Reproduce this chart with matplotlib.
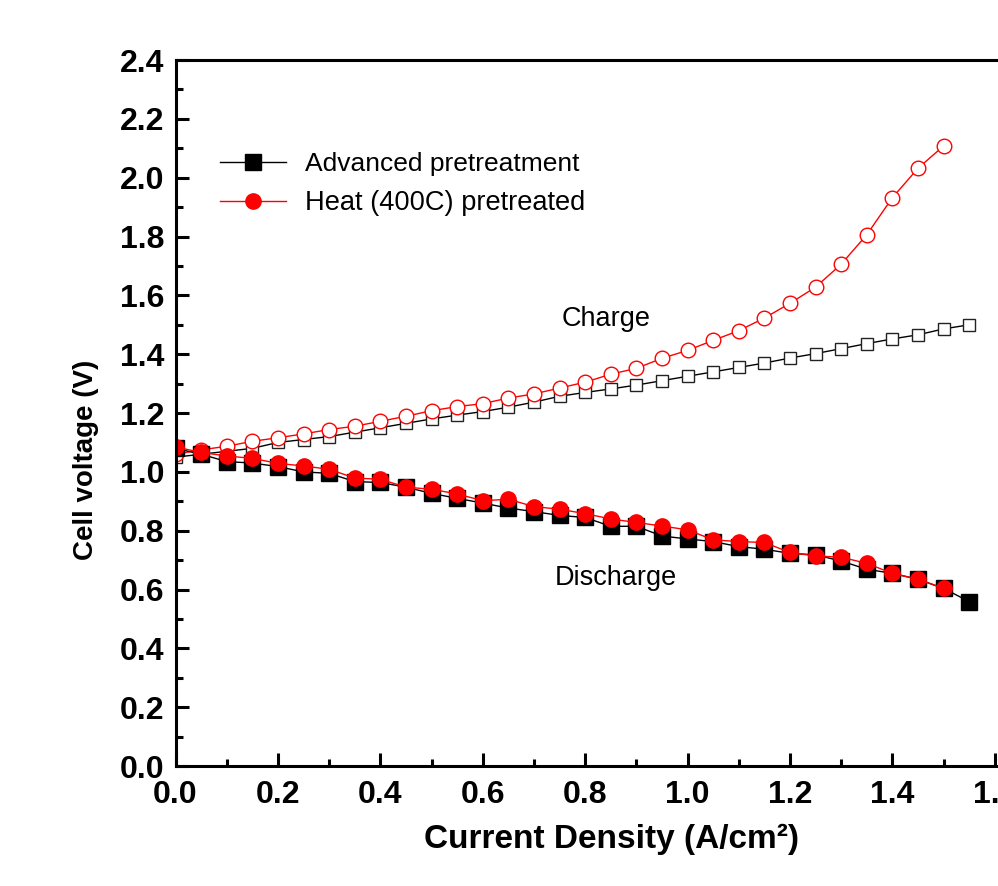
import matplotlib
matplotlib.use("Agg")
import matplotlib.pyplot as plt
from matplotlib.ticker import MultipleLocator

plt.rcParams["font.family"] = ["Liberation Sans", "DejaVu Sans"]

# current density steps (A/cm2)
x_adv = [0.00, 0.05, 0.10, 0.15, 0.20, 0.25, 0.30, 0.35, 0.40, 0.45, 0.50,
         0.55, 0.60, 0.65, 0.70, 0.75, 0.80, 0.85, 0.90, 0.95, 1.00, 1.05,
         1.10, 1.15, 1.20, 1.25, 1.30, 1.35, 1.40, 1.45, 1.50, 1.55]
x_heat = x_adv[:-1]

# advanced pretreatment
adv_charge = [1.050, 1.060, 1.070, 1.080, 1.100, 1.110, 1.120, 1.135, 1.150, 1.165, 1.180,
              1.193, 1.205, 1.220, 1.237, 1.257, 1.270, 1.282, 1.295, 1.310, 1.325, 1.340,
              1.355, 1.370, 1.387, 1.402, 1.419, 1.436, 1.452, 1.466, 1.486, 1.500]
adv_discharge = [1.080, 1.060, 1.035, 1.030, 1.018, 1.000, 0.995, 0.967, 0.964, 0.948, 0.927,
                 0.910, 0.894, 0.877, 0.865, 0.852, 0.845, 0.815, 0.815, 0.782, 0.772, 0.763,
                 0.746, 0.737, 0.723, 0.718, 0.697, 0.669, 0.655, 0.635, 0.604, 0.559]

# heat (400C) pretreated
heat_charge = [1.060, 1.075, 1.087, 1.104, 1.116, 1.129, 1.144, 1.155, 1.172, 1.189, 1.208,
               1.222, 1.232, 1.251, 1.265, 1.285, 1.305, 1.332, 1.352, 1.386, 1.413,
               1.447, 1.480, 1.523, 1.573, 1.628, 1.706, 1.806, 1.932, 2.032, 2.108]
heat_discharge = [1.085, 1.066, 1.054, 1.046, 1.029, 1.020, 1.009, 0.979, 0.975, 0.948, 0.941,
                  0.925, 0.902, 0.907, 0.882, 0.873, 0.858, 0.840, 0.828, 0.816, 0.803,
                  0.769, 0.763, 0.760, 0.726, 0.714, 0.710, 0.689, 0.655, 0.635, 0.604]

labels = ["Advanced pretreatment", "Heat (400C) pretreated"]

fig = plt.figure(figsize=(9.98, 8.86), dpi=100)
# axes runs past the right edge of the canvas (right spine is not shown)
ax = fig.add_axes([0.1759, 0.1354, 0.8465, 0.7968])

# charge: open markers
ax.plot(x_adv, adv_charge, color="black", lw=1.0, marker="s", ms=9,
        mfc="white", mec="#222222", mew=1.0)
ax.plot(x_heat, heat_charge, color="red", lw=1.0, marker="o", ms=10.5,
        mfc="white", mec="red", mew=1.0)
# discharge: filled markers
h_adv, = ax.plot(x_adv, adv_discharge, color="black", lw=1.0, marker="s", ms=11.5,
                 mfc="black", mec="black")
h_heat, = ax.plot(x_heat, heat_discharge, color="red", lw=1.0, marker="o", ms=11,
                  mfc="red", mec="red")

ax.set_xlim(0, 1.65)
ax.set_ylim(0, 2.4)
ax.xaxis.set_major_locator(MultipleLocator(0.2))
ax.xaxis.set_minor_locator(MultipleLocator(0.1))
ax.yaxis.set_major_locator(MultipleLocator(0.2))
ax.yaxis.set_minor_locator(MultipleLocator(0.1))
ax.xaxis.set_major_formatter(lambda v, p: f"{v:.1f}")
ax.yaxis.set_major_formatter(lambda v, p: f"{v:.1f}")

for sp in ax.spines.values():
    sp.set_linewidth(2.2)
ax.tick_params(which="both", direction="in", width=2.2, top=False, right=False)
ax.tick_params(which="major", length=9.5)
ax.tick_params(which="minor", length=5)
ax.tick_params(axis="x", which="major", pad=10)
ax.tick_params(axis="y", which="major", pad=8)
for lab in ax.get_xticklabels() + ax.get_yticklabels():
    lab.set_fontsize(23)
    lab.set_fontweight("bold")

ax.text(0.84, 1.52, "Charge", fontsize=19.5, ha="center", va="center")
ax.text(0.86, 0.64, "Discharge", fontsize=19.5, ha="center", va="center")

leg = ax.legend([h_adv, h_heat], labels, loc="upper left",
                bbox_to_anchor=(0.053, 0.870), frameon=False, fontsize=19,
                handlelength=2.5, handletextpad=0.7, labelspacing=0.54,
                borderpad=0, borderaxespad=0, numpoints=1)
leg.get_texts()[1].set_fontsize(19.6)

fig.text(611 / 998, 1 - 848 / 886, "Current Density (A/cm²)", fontsize=24,
         fontweight="bold", ha="center", va="baseline")
fig.text(86 / 998, 1 - 460 / 886, "Cell voltage (V)", fontsize=20,
         fontweight="bold", ha="center", va="center", rotation=90)

fig.savefig("out.png", dpi=100)
